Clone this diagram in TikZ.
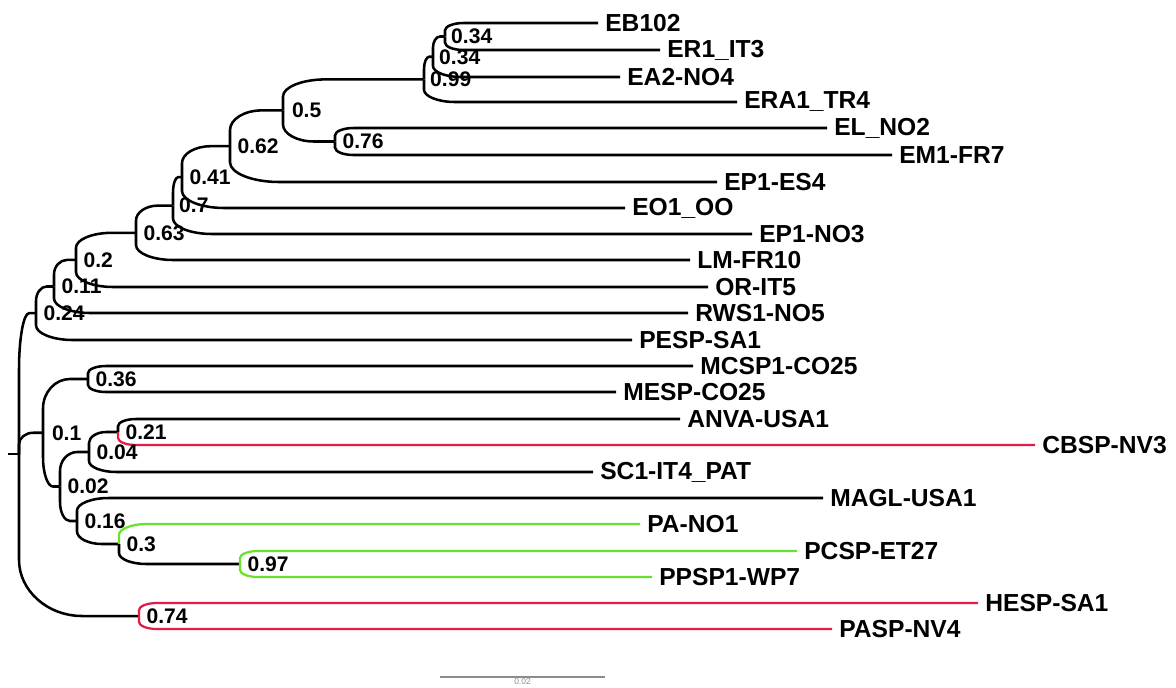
\documentclass[tikz,border=0pt]{standalone}
\usepackage{fontspec}
\setmainfont{Liberation Sans}
\usepackage{tikz}
\usetikzlibrary{positioning,calc}
\definecolor{treered}{RGB}{226,28,68}
\definecolor{treegreen}{RGB}{104,226,44}
\definecolor{scalegray}{RGB}{140,140,140}
\tikzset{
  treeline/.style={line width=1.8pt,color=black},
  redline/.style={line width=1.6pt,color=treered},
  greenline/.style={line width=1.6pt,color=treegreen},
  junction/.style={inner sep=0pt,minimum size=0pt},
  leaf/.style={anchor=west,inner xsep=5pt,inner ysep=0pt,font=\fontsize{17.5}{20}\selectfont\bfseries},
  support/.style={inner sep=2pt,font=\fontsize{15}{17}\selectfont\bfseries},
  scalebar/.style={line width=0.9pt,color=scalegray}
}
%% one curved branch: parent -> child
\newcommand{\branch}[3][treeline]{%
  \draw[#1] let \p1=(#2), \p2=(#3.west),
      \n1={abs(\y2-\y1)}, \n2={abs(\x2-\x1)},
      \n3={min(0.55*\n1,40pt)}, \n4={min(2.5*\n3,0.6*\n2,45pt)},
      \n5={sign(\y1-\y2)}
    in (\p1) -- ({\x1},{\y2+(\n5)*(\n3)})
       .. controls ({\x1},{\y2+0.45*(\n5)*(\n3)}) and ({\x1+0.45*\n4},{\y2}) .. ({\x1+\n4},{\y2}) -- (\p2);
}

\begin{document}
\begin{tikzpicture}[x=0.025cm,y=-0.025cm]
  \useasboundingbox (0,0) rectangle (1176,687);

  %% Leaves
  \node[leaf] (eb102) at (598,23) {EB102};
  \node[leaf] (er1it3) at (660,50) {ER1\_IT3};
  \node[leaf] (ea2no4) at (620,77) {EA2-NO4};
  \node[leaf] (era1tr4) at (737,102) {ERA1\_TR4};
  \node[leaf] (elno2) at (827,128) {EL\_NO2};
  \node[leaf] (em1fr7) at (892,155) {EM1-FR7};
  \node[leaf] (ep1es4) at (717,182) {EP1-ES4};
  \node[leaf] (eo1oo) at (625,208) {EO1\_OO};
  \node[leaf] (ep1no3) at (752,234) {EP1-NO3};
  \node[leaf] (lmfr10) at (690,260) {LM-FR10};
  \node[leaf] (orit5) at (708,287) {OR-IT5};
  \node[leaf] (rws1no5) at (688,313) {RWS1-NO5};
  \node[leaf] (pespsa1) at (632,340) {PESP-SA1};
  \node[leaf] (mcsp1co25) at (693,366) {MCSP1-CO25};
  \node[leaf] (mespco25) at (616,392) {MESP-CO25};
  \node[leaf] (anvausa1) at (680,419) {ANVA-USA1};
  \node[leaf] (cbspnv3) at (1035,445) {CBSP-NV3};
  \node[leaf] (sc1it4) at (593,472) {SC1-IT4\_PAT};
  \node[leaf] (maglusa1) at (823,498) {MAGL-USA1};
  \node[leaf] (pano1) at (640,524) {PA-NO1};
  \node[leaf] (pcspet27) at (797,551) {PCSP-ET27};
  \node[leaf] (ppsp1wp7) at (652,577) {PPSP1-WP7};
  \node[leaf] (hespsa1) at (978,603) {HESP-SA1};
  \node[leaf] (paspnv4) at (832,629) {PASP-NV4};

  %% Internal nodes
  \node[junction] (n34a) at (445,36.5) {};
  \node[junction] (n34b) at (433,56.75) {};
  \node[junction] (n99) at (424,79.4) {};
  \node[junction] (n76) at (335,141.5) {};
  \node[junction] (n50) at (283,110.4) {};
  \node[junction] (n62) at (230,146.2) {};
  \node[junction] (n41) at (182,177.1) {};
  \node[junction] (n70) at (173,205.6) {};
  \node[junction] (n63) at (136,232.8) {};
  \node[junction] (n20) at (76,259.9) {};
  \node[junction] (n11) at (54,286.5) {};
  \node[junction] (n24) at (36,313.2) {};
  \node[junction] (n36) at (88,379) {};
  \node[junction] (n21) at (118,432) {};
  \node[junction] (n04) at (89,452) {};
  \node[junction] (n97) at (240,564) {};
  \node[junction] (n30) at (119,544) {};
  \node[junction] (n16) at (77,521) {};
  \node[junction] (n02) at (60,486.5) {};
  \node[junction] (n10) at (43,432.75) {};
  \node[junction] (n74) at (139,616) {};
  \node[junction] (root) at (19,454) {};
  \coordinate (stub) at (8,454);

  %% Branches
  \draw[treeline] (stub) -- (root);
  \branch{root}{n24} \branch{root}{n10} \branch{root}{n74}
  \branch{n24}{n11} \branch{n24}{pespsa1}
  \branch{n11}{n20} \branch{n11}{rws1no5}
  \branch{n20}{n63} \branch{n20}{orit5}
  \branch{n63}{n70} \branch{n63}{lmfr10}
  \branch{n70}{n41} \branch{n70}{ep1no3}
  \branch{n41}{n62} \branch{n41}{eo1oo}
  \branch{n62}{n50} \branch{n62}{ep1es4}
  \branch{n50}{n99} \branch{n50}{n76}
  \branch{n76}{elno2} \branch{n76}{em1fr7}
  \branch{n99}{n34b} \branch{n99}{era1tr4}
  \branch{n34b}{n34a} \branch{n34b}{ea2no4}
  \branch{n34a}{eb102} \branch{n34a}{er1it3}
  \branch{n10}{n36} \branch{n10}{n02}
  \branch{n36}{mcsp1co25} \branch{n36}{mespco25}
  \branch{n02}{n04} \branch{n02}{n16}
  \branch{n04}{n21} \branch{n04}{sc1it4}
  \branch{n21}{anvausa1} \branch[redline]{n21}{cbspnv3}
  \branch{n16}{maglusa1} \branch{n16}{n30}
  \branch[greenline]{n30}{pano1} \branch{n30}{n97}
  \branch[greenline]{n97}{pcspet27} \branch[greenline]{n97}{ppsp1wp7}
  \branch[redline]{n74}{hespsa1} \branch[redline]{n74}{paspnv4}

  %% Support values
  \node[support,right=2pt of n34a] (l34a) {0.34};
  \node[support,right=2pt of n34b] (l34b) {0.34};
  \node[support,right=2pt of n99] (l99) {0.99};
  \node[support,right=4pt of n50] (l50) {0.5};
  \node[support,right=3pt of n76] (l76) {0.76};
  \node[support,right=3pt of n62] (l62) {0.62};
  \node[support,right=3pt of n41] (l41) {0.41};
  \node[support,right=2pt of n70] (l70) {0.7};
  \node[support,right=3pt of n63] (l63) {0.63};
  \node[support,right=3pt of n20] (l20) {0.2};
  \node[support,right=3pt of n11] (l11) {0.11};
  \node[support,right=3pt of n24] (l24) {0.24};
  \node[support,right=3pt of n36] (l36) {0.36};
  \node[support,right=4pt of n10] (l10) {0.1};
  \node[support,right=3pt of n21] (l21) {0.21};
  \node[support,right=3pt of n04] (l04) {0.04};
  \node[support,right=3pt of n02] (l02) {0.02};
  \node[support,right=3pt of n16] (l16) {0.16};
  \node[support,right=3pt of n30] (l30) {0.3};
  \node[support,right=3pt of n97] (l97) {0.97};
  \node[support,right=3pt of n74] (l74) {0.74};

  %% Scale bar
  \coordinate (sbleft) at (440,677);
  \coordinate (sbright) at (605,677);
  \draw[scalebar] (sbleft) -- (sbright)
    node[midway,below=0pt,inner sep=1pt,font=\fontsize{6}{6}\selectfont,text=scalegray] (sblabel) {0.02};
\end{tikzpicture}
\end{document}
